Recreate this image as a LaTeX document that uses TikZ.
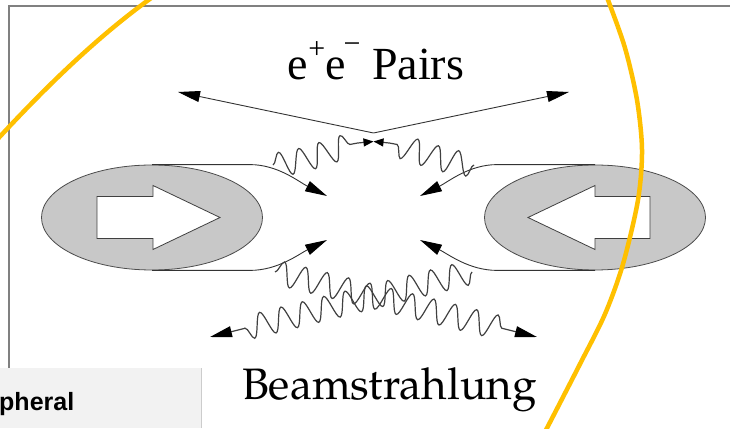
\documentclass[tikz,border=0pt]{standalone}
\usepackage{fontspec}
\setmainfont{TeX Gyre Pagella}
\newfontfamily\timesfont{Liberation Serif}
\newfontfamily\panelfont{Liberation Sans}
\usepackage{tikz}
\usetikzlibrary{shapes, arrows.meta, decorations.pathmorphing, calc}

\definecolor{beamgray}{RGB}{200,200,200}
\definecolor{marker}{RGB}{255,192,0}
\definecolor{panel}{RGB}{242,242,242}

\tikzset{
  beam/.style={ellipse, draw=black!70, fill=beamgray, line width=0.8pt,
    minimum width=221pt, minimum height=105pt, inner sep=0pt},
  blockarrow/.style={draw=black!75, fill=white, line width=0.8pt},
  bighead/.style={-{Triangle[length=22pt,width=11pt,color=black]}},
  smallhead/.style={-{Triangle[length=10pt,width=8pt,color=black]}},
  track/.style={draw=black!80, line width=0.9pt, bighead},
  photon/.style={draw=black!75, line width=1.2pt, decorate},
  frame/.style={draw=black!50, line width=1.2pt},
  highlight/.style={draw=marker, line width=4.5pt},
}

\begin{document}
\begin{tikzpicture}[x=1pt, y=1pt]
\useasboundingbox (0,0) rectangle (730,428);

% outer frame
\draw[frame] (9,60) -- (9,422) -- (740,422);

% the two bunches
\node[beam] (lbeam) at (152,210.5) {};
\node[beam] (rbeam) at (595,210.5) {};
\draw[blockarrow, shift={(lbeam.center)}]
  (-55,21) -- (1,21) -- (1,32) -- (68,0) -- (1,-32) -- (1,-21) -- (-55,-21) -- cycle;
\draw[blockarrow, shift={(rbeam.center)}]
  (55,21) -- (0,21) -- (0,32) -- (-67,0) -- (0,-32) -- (0,-21) -- (55,-21) -- cycle;

% particles flowing into the interaction point
\coordinate (lin1) at (327,232);
\coordinate (lin2) at (327,188);
\coordinate (rin1) at (420,232);
\coordinate (rin2) at (420,188);
\draw[track] (lbeam.north) -- ++(98,0) .. controls +(28,0) and (299,246) .. (lin1);
\draw[track] (lbeam.south) -- ++(98,0) .. controls +(28,0) and (299,174) .. (lin2);
\draw[track] (rbeam.north) -- ++(-98,0) .. controls +(-28,0) and (448,246) .. (rin1);
\draw[track] (rbeam.south) -- ++(-98,0) .. controls +(-28,0) and (448,174) .. (rin2);

% pair creation
\coordinate (vtx) at (373.5,295);
\coordinate (pl) at (178,336);
\coordinate (pr) at (569,336);
\draw[track] (vtx) -- (pl);
\draw[track] (vtx) -- (pr);

\coordinate (g1) at (273,263);
\coordinate (g2) at (474,263);
\coordinate (gc) at (373.5,286.5);
\draw[photon, smallhead, decoration={snake, amplitude=12pt, segment length=22pt, post length=16pt}]
  (g1) .. controls (315,268) and (340,286) .. (gc);
\draw[photon, smallhead, decoration={snake, amplitude=12pt, segment length=22pt, post length=16pt}]
  (g2) .. controls (432,268) and (407,286) .. (gc);

% beamstrahlung photons
\coordinate (b1) at (275,156);
\coordinate (b2) at (472,156);
\coordinate (bl) at (210,91);
\coordinate (br) at (537,91);
\draw[photon, bighead, decoration={snake, amplitude=12pt, segment length=22pt, post length=34pt}]
  (b1) -- (br);
\draw[photon, bighead, decoration={snake, amplitude=12pt, segment length=22pt, post length=34pt}]
  (b2) -- (bl);

% labels
\node[anchor=base, inner sep=0pt, font=\timesfont\fontsize{46}{50}\selectfont] (pairs)
  at (376,348) {e\raisebox{21pt}{\fontsize{30}{30}\selectfont +}e\kern-2pt\raisebox{26pt}{\fontsize{30}{30}\selectfont −} Pairs};
\node[anchor=base, inner sep=0pt, font=\fontsize{44}{48}\selectfont] (beamst)
  at (389.5,29) {Beamstrahlung};

% panel in the corner
\fill[panel] (0,0) rectangle (201,60);
\draw[black!20, line width=1pt] (201,0) -- (201,60);
\node[anchor=base west, inner sep=0pt, font=\panelfont\bfseries\fontsize{25}{28}\selectfont] (side)
  at (-1,18) {pheral};

% marker strokes on top
\draw[highlight] (-6,285) .. controls (40,335) and (95,390) .. (154,432);
\draw[highlight] plot[smooth] coordinates
  {(604,436) (608,428) (625,380) (637,328) (642,278) (638,228) (623,164) (605,114) (580,64) (547,0) (544,-5)};
\end{tikzpicture}
\end{document}
